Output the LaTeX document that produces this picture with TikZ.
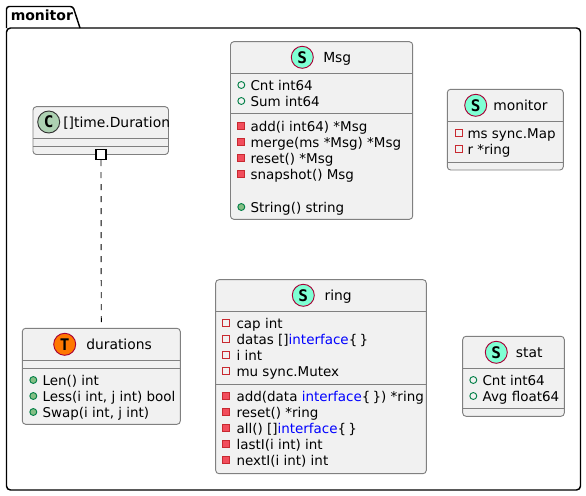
\documentclass[tikz,border=0pt]{standalone}
\usepackage{fontspec}
\setmainfont{DejaVu Sans}
\newfontfamily\spotfont{DejaVu Sans Mono}
\usepackage{xcolor}
\usetikzlibrary{fit}
\definecolor{boxfill}{HTML}{F1F1F1}
\definecolor{boxline}{HTML}{808080}
\definecolor{privred}{HTML}{C82930}
\definecolor{privfill}{HTML}{F24D5C}
\definecolor{pubgreen}{HTML}{038048}
\definecolor{pubfill}{HTML}{84BE84}
\definecolor{spotborder}{HTML}{A80036}
\newcommand{\iface}{\textcolor{blue}{interface}}
\tikzset{
  classbox/.style={draw=boxline,line width=0.7pt,fill=boxfill,rounded corners=2.5pt,inner sep=0pt},
  sepline/.style={draw=boxline,line width=0.7pt},
  spot/.style={circle,draw=#1,line width=0.7pt,minimum size=16.5pt,inner sep=0pt,font=\spotfont\bfseries\fontsize{12}{12}\selectfont},
  title/.style={anchor=base west,inner sep=0pt,font=\fontsize{10.4}{12}\selectfont},
  member/.style={anchor=base west,inner sep=0pt,font=\fontsize{10.1}{12}\selectfont},
  privfield/.style={rectangle,draw=privred,line width=0.7pt,minimum size=5.2pt,inner sep=0pt},
  privmethod/.style={privfield,fill=privfill},
  pubfield/.style={circle,draw=pubgreen,line width=0.7pt,minimum size=5.2pt,inner sep=0pt},
  pubmethod/.style={pubfield,fill=pubfill},
}
\begin{document}
\begin{tikzpicture}[x=0.75pt,y=-0.75pt]
\useasboundingbox (0,0) rectangle (586,496);

% package
\draw[black,line width=1.1pt,rounded corners=2pt] (6.5,28) -- (6.5,6.5) -- (73,6.5) -- (80,28);
\draw[black,line width=1.1pt,rounded corners=3pt] (6.5,28) rectangle (580.5,490);
\node[title,font=\bfseries\fontsize{10.5}{12}\selectfont] (pkgname) at (10.5,21) {monitor};

% []time.Duration
\node[classbox,fit={(33,106.7)(168.5,154.5)}] (duration) {};
\foreach\s in {138,146}
\draw[sepline] (duration.west |- 0,\s) -- (duration.east |- 0,\s);
\node[spot=black!80,fill={rgb,255:red,173;green,209;blue,178}] (durationspot) at (48.7,122) {C};
\node[title] (durationname) at (63,127) {[]time.Duration};

% durations
\node[classbox,fit={(22.3,328.3)(180.3,424.3)}] (durations) {};
\foreach\s in {360.3,368.3}
\draw[sepline] (durations.west |- 0,\s) -- (durations.east |- 0,\s);
\node[spot=spotborder,fill={rgb,255:red,255;green,119;blue,0}] (durationsspot) at (64.7,344.3) {T};
\node[title] (durationsname) at (86,349.5) {durations};
\foreach\y/\txt in {385/{Len() int},401/{Less(i int, j int) bool},417/{Swap(i int, j int)}}
{
\node[pubmethod] (durationsicon\y) at (33.3,\y-5) {};
\node[member] (durationsrow\y) at (42.3,\y) {\txt};
}

% Msg
\node[classbox,fit={(230.5,41.7)(412.7,219.3)}] (msg) {};
\foreach\s in {73.3,113.3}
\draw[sepline] (msg.west |- 0,\s) -- (msg.east |- 0,\s);
\node[spot=spotborder,fill={rgb,255:red,127;green,255;blue,212}] (msgspot) at (302.3,57.3) {S};
\node[title] (msgname) at (323,62.5) {Msg};
\foreach\y/\txt in {90/{Cnt int64},106/{Sum int64}}
{
\node[pubfield] (msgicon\y) at (241.3,\y-5) {};
\node[member] (msgrow\y) at (250.3,\y) {\txt};
}
\foreach\y/\txt in {131/{add(i int64) *Msg},147/{merge(ms *Msg) *Msg},163/{reset() *Msg},179/{snapshot() Msg}}
{
\node[privmethod] (msgicon\y) at (241.3,\y-5) {};
\node[member] (msgrow\y) at (250.3,\y) {\txt};
}
\node[pubmethod] (msgicon212) at (241.3,207) {};
\node[member] (msgrow212) at (250.3,212) {String() string};

% monitor
\node[classbox,fit={(447.3,89.3)(563.3,170)}] (monitor) {};
\foreach\s in {121.7,162.3}
\draw[sepline] (monitor.west |- 0,\s) -- (monitor.east |- 0,\s);
\node[spot=spotborder,fill={rgb,255:red,127;green,255;blue,212}] (monitorspot) at (475.7,105.3) {S};
\node[title] (monitorname) at (493,110.5) {monitor};
\foreach\y/\txt in {138/{ms sync.Map},154/{r *ring}}
{
\node[privfield] (monitoricon\y) at (458.7,\y-5) {};
\node[member] (monitorrow\y) at (467.3,\y) {\txt};
}

% ring
\node[classbox,fit={(215.7,279.7)(426.3,473.7)}] (ring) {};
\foreach\s in {311.3,384.3}
\draw[sepline] (ring.west |- 0,\s) -- (ring.east |- 0,\s);
\node[spot=spotborder,fill={rgb,255:red,127;green,255;blue,212}] (ringspot) at (303.3,295.3) {S};
\node[title] (ringname) at (324.3,300.5) {ring};
\foreach\y/\txt in {328/{cap int},344/{datas []\iface\{\,\}},360/{i int},376/{mu sync.Mutex}}
{
\node[privfield] (ringicon\y) at (226.3,\y-5) {};
\node[member] (ringrow\y) at (236.3,\y) {\txt};
}
\foreach\y/\txt in {401/{add(data \iface\{\,\}) *ring},417/{reset() *ring},433/{all() []\iface\{\,\}},449/{lastI(i int) int},465/{nextI(i int) int}}
{
\node[privmethod] (ringicon\y) at (226.3,\y-5) {};
\node[member] (ringrow\y) at (236.3,\y) {\txt};
}

% stat
\node[classbox,fit={(462.7,336.3)(564.3,416.3)}] (stat) {};
\foreach\s in {368.3,408.3}
\draw[sepline] (stat.west |- 0,\s) -- (stat.east |- 0,\s);
\node[spot=spotborder,fill={rgb,255:red,127;green,255;blue,212}] (statspot) at (496.3,352.3) {S};
\node[title] (statname) at (515.7,357.5) {stat};
\foreach\y/\txt in {385/{Cnt int64},401/{Avg float64}}
{
\node[pubfield] (staticon\y) at (473.3,\y-5) {};
\node[member] (statrow\y) at (482.3,\y) {\txt};
}

% composition link
\node[rectangle,draw=black,line width=0.9pt,fill=white,minimum size=7.5pt,inner sep=0pt] (square) at (101,154.5) {};
\draw[black,line width=0.7pt,dash pattern=on 4.5pt off 4.5pt] (square.south) -- (durations.north);
\end{tikzpicture}
\end{document}
